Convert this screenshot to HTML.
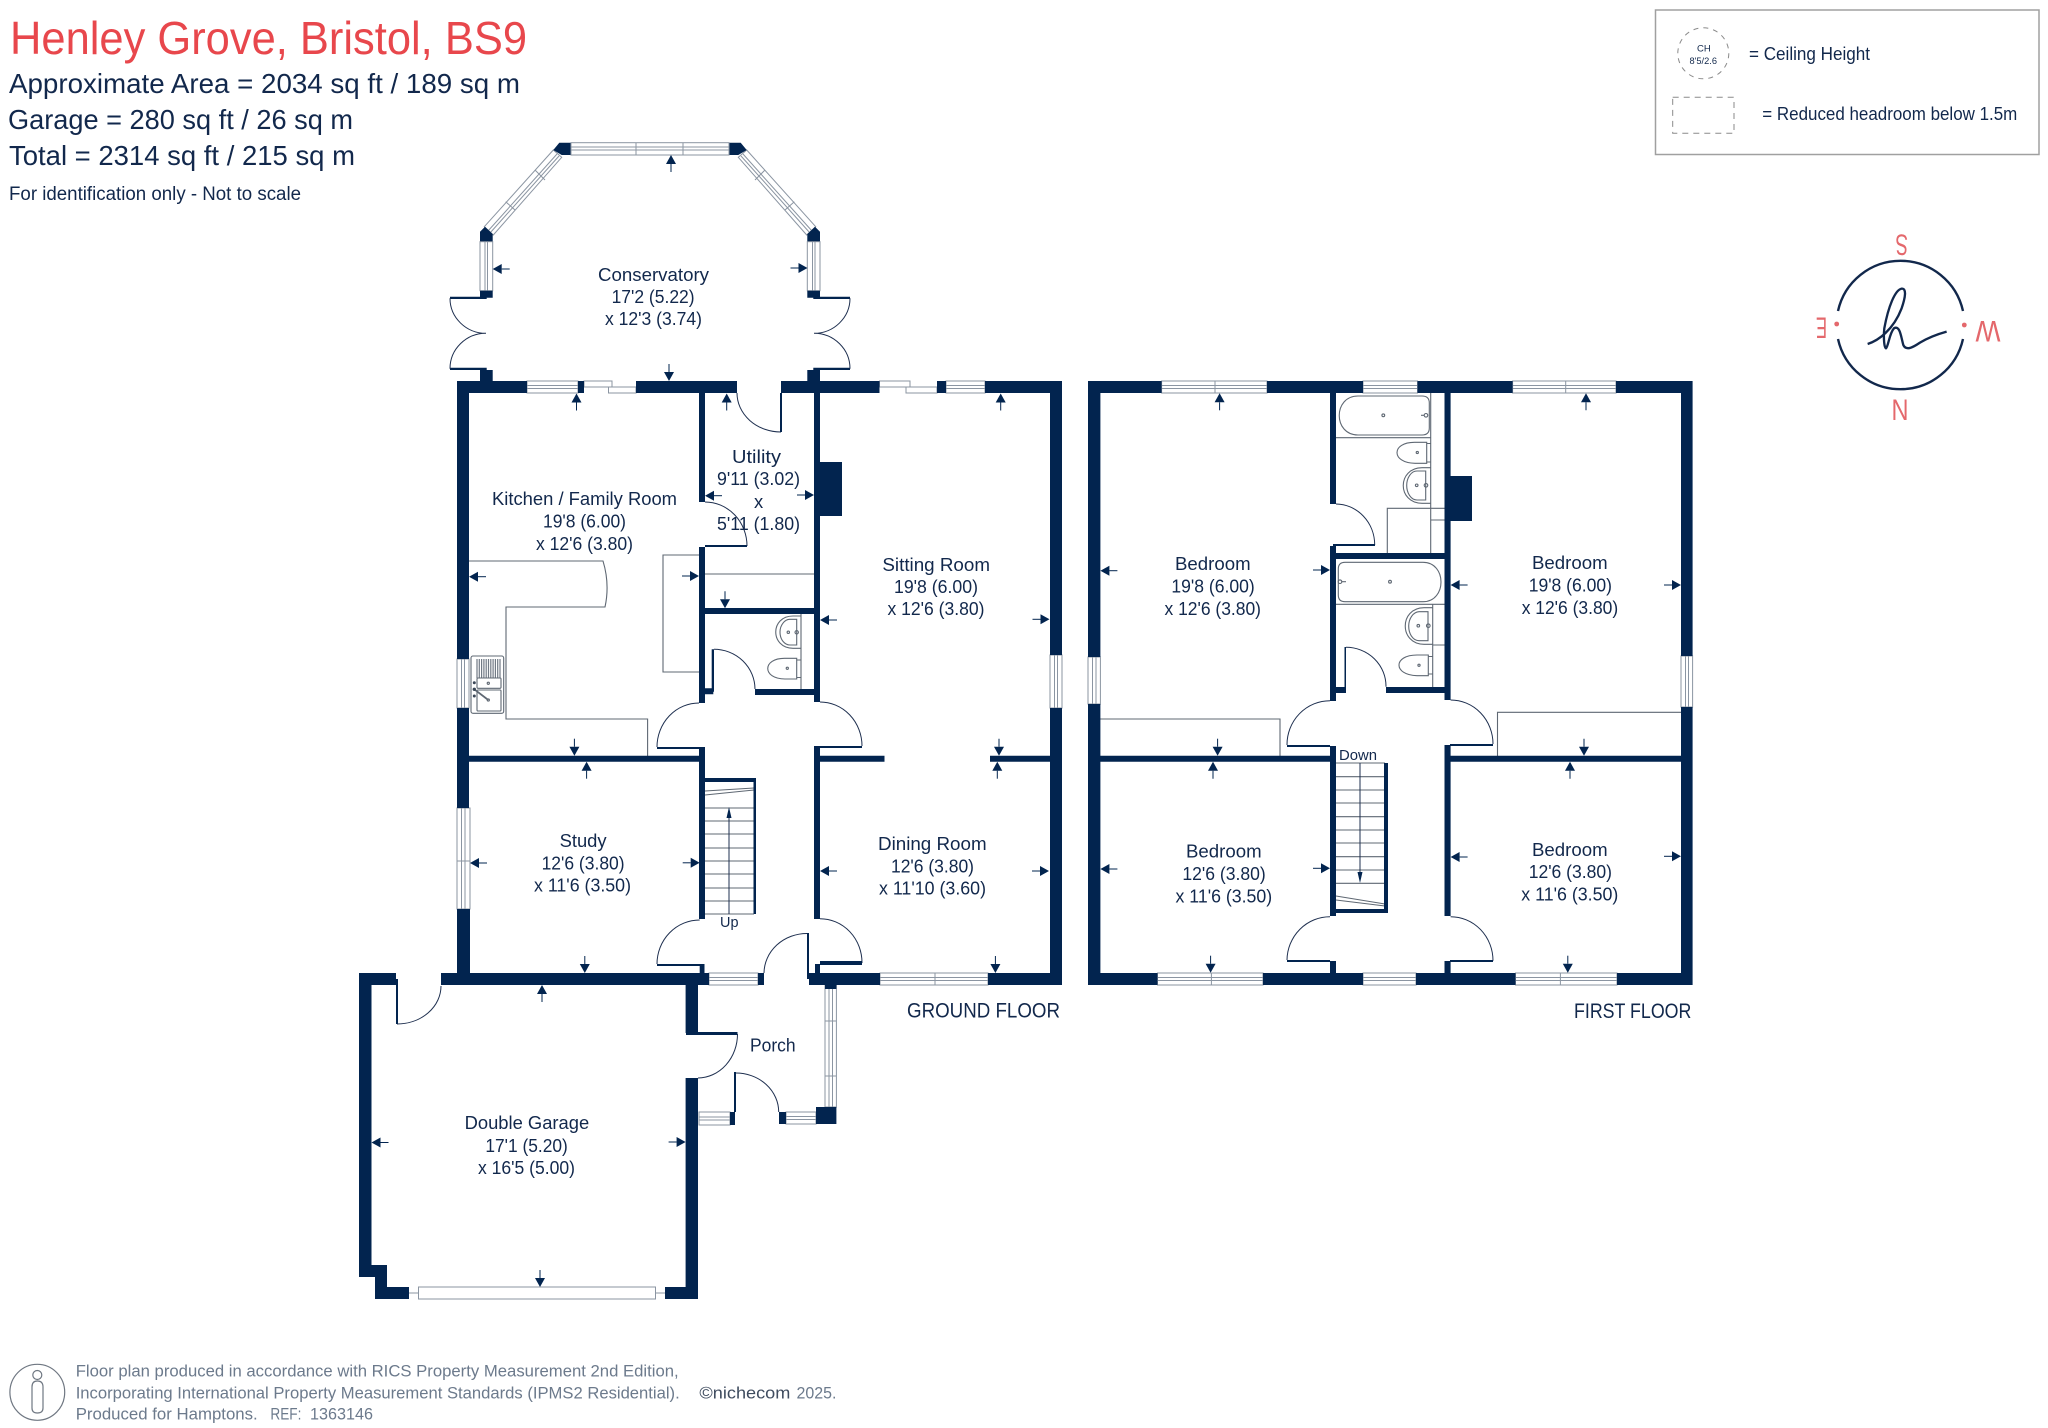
<!DOCTYPE html>
<html>
<head>
<meta charset="utf-8">
<style>
html,body{margin:0;padding:0;background:#fff}
svg{display:block}
text{fill:#12284c;font-family:"Liberation Sans",sans-serif}
.r{font-size:18.4px}
.w{fill:#fff;stroke:#8b95a2;stroke-width:1}
.t{fill:none;stroke:#5f6873;stroke-width:1.1}
.d{fill:none;stroke:#1f3050;stroke-width:1}
.f{font-size:17px;fill:#6c7a8c}
.c{font-size:30px;fill:#e4686c}
</style>
</head>
<body>
<svg width="2048" height="1428" viewBox="0 0 2048 1428" xmlns="http://www.w3.org/2000/svg">
<defs>
<g id="a"><path d="M0 0L-9 -5V5Z" fill="#02244f"/><path d="M-9 0H-17" stroke="#02244f" stroke-width="1"/></g>
<g id="cL">
<path class="w" d="M484.3 226.7L553.3 150L561.7 157.3L493.3 235Z"/>
<path d="M488 231L557 154M490 233L559 156M535 170L545 180M505.7 201.7L515 210" fill="none" stroke="#8b95a2" stroke-width="1"/>
<path fill="#02244f" d="M553.3 150L559.3 142.7H571V155H561.7ZM480 231.7L485 226.7L492.7 234V241.7H480Z"/>
<rect class="w" x="480" y="241.7" width="12.7" height="49"/>
<path d="M485 241.7V290.7M487.5 241.7V290.7" stroke="#8b95a2" stroke-width="1"/>
<path fill="#02244f" d="M480 290.7H492.7V297.7H480ZM450 296.7H486.7V299H450ZM450 367.7H486.7V370H450ZM480 370H492.7V381H480Z"/>
<path class="d" d="M450 298.3A36 35 0 0 0 486 333.3A36 35.4 0 0 0 450 368.7"/>
</g>
</defs>

<!-- Header -->
<text x="10" y="54" font-size="46" style="fill:#e8474c" textLength="517" lengthAdjust="spacingAndGlyphs">Henley Grove, Bristol, BS9</text>
<text x="9" y="93" font-size="28" textLength="511" lengthAdjust="spacingAndGlyphs">Approximate Area = 2034 sq ft / 189 sq m</text>
<text x="8" y="129" font-size="28" textLength="345" lengthAdjust="spacingAndGlyphs">Garage = 280 sq ft / 26 sq m</text>
<text x="9" y="165" font-size="28" textLength="346" lengthAdjust="spacingAndGlyphs">Total = 2314 sq ft / 215 sq m</text>
<text x="9" y="200" font-size="19" textLength="292" lengthAdjust="spacingAndGlyphs">For identification only - Not to scale</text>

<!-- Legend -->
<rect x="1655.5" y="10" width="383.5" height="144.5" fill="none" stroke="#a0a0a0" stroke-width="1.5"/>
<circle cx="1703.3" cy="53.3" r="25.5" fill="none" stroke="#8a8a8a" stroke-width="1" stroke-dasharray="5 5"/>
<text x="1697" y="51.5" font-size="9.5">CH</text>
<text x="1689.5" y="64" font-size="9.5" textLength="27.5" lengthAdjust="spacingAndGlyphs">8'5/2.6</text>
<text x="1749" y="60" font-size="18" textLength="121" lengthAdjust="spacingAndGlyphs">= Ceiling Height</text>
<rect x="1672.7" y="97.3" width="61.3" height="36" fill="none" stroke="#8a8a8a" stroke-width="1" stroke-dasharray="6 5"/>
<text x="1762.3" y="120" font-size="18" textLength="255" lengthAdjust="spacingAndGlyphs">= Reduced headroom below 1.5m</text>

<!-- Compass -->
<path d="M1838 311A64 64 0 0 1 1963 311M1963 339A64 64 0 0 1 1838 339" fill="none" stroke="#12284c" stroke-width="2.4"/>
<circle cx="1836.7" cy="324" r="2.4" fill="#e4686c"/><circle cx="1964.3" cy="325" r="2.4" fill="#e4686c"/>
<g transform="translate(1640 0) scale(.3333)"><path d="M683 1032C715 1022 760 990 785 925C797 890 800 865 785 866C765 870 745 920 733 985C730 1015 733 1045 738 1045C745 1040 748 1000 762 985C780 975 783 1010 790 1035C798 1052 815 1045 840 1028C870 1010 895 1002 920 995" fill="none" stroke="#12284c" stroke-width="7"/></g>
<text class="c" transform="translate(1908 234.5) rotate(180)" textLength="12.5" lengthAdjust="spacingAndGlyphs" x="0" y="0">S</text>
<text class="c" transform="translate(1908.5 399.5) rotate(180)" textLength="17" lengthAdjust="spacingAndGlyphs" x="0" y="0">N</text>
<text class="c" transform="translate(1827 317.5) rotate(180)" textLength="11" lengthAdjust="spacingAndGlyphs" x="0" y="0">E</text>
<text class="c" transform="translate(2000.5 321) rotate(180)" textLength="25" lengthAdjust="spacingAndGlyphs" x="0" y="0">W</text>

<!-- Conservatory -->
<use href="#cL"/>
<use href="#cL" transform="translate(1300 0) scale(-1 1)"/>
<rect class="w" x="571" y="142.7" width="158" height="12.3"/>
<path d="M571 147H729M571 150H729M636 142.7V155M683 142.7V155" stroke="#8b95a2" stroke-width="1"/>

<!-- Windows ground -->
<g>
<rect class="w" x="527" y="381" width="51" height="12"/><path d="M527 385.5H578M527 388.5H578" stroke="#8b95a2"/>
<rect class="w" x="584" y="381" width="28" height="6"/><rect class="w" x="608.5" y="387" width="27.5" height="6"/>
<rect class="w" x="879.5" y="381" width="30.5" height="6"/><rect class="w" x="906" y="387" width="31" height="6"/>
<rect class="w" x="946" y="381" width="39" height="12"/><path d="M946 385.5H985M946 388.5H985" stroke="#8b95a2"/>
<rect class="w" x="457" y="659" width="12" height="49"/><path d="M461.5 659V708M464.5 659V708" stroke="#8b95a2"/>
<rect class="w" x="1050" y="655" width="12" height="53"/><path d="M1054.5 655V708M1057.5 655V708" stroke="#8b95a2"/>
<rect class="w" x="457" y="808" width="13" height="101"/><path d="M461.5 808V909M465 808V909M457 861H470" stroke="#8b95a2"/>
<rect class="w" x="709" y="973" width="49" height="12"/><path d="M709 977.5H758M709 980.5H758" stroke="#8b95a2"/>
<rect class="w" x="880" y="973" width="108" height="12"/><path d="M880 977.5H988M880 980.5H988M935 973V985" stroke="#8b95a2"/>
<rect class="w" x="418.5" y="1287" width="237" height="12"/><path d="M409 1293H418.5M655.5 1293H665" stroke="#8b95a2"/>
<rect class="w" x="699" y="1112" width="31" height="13"/><path d="M699 1117H730M699 1120H730" stroke="#8b95a2"/>
<rect class="w" x="786" y="1112" width="30" height="12"/><path d="M786 1116.5H816M786 1119.5H816" stroke="#8b95a2"/>
<rect class="w" x="825" y="985" width="11.4" height="122"/><path d="M829 985V1107M832.5 985V1107M825 1021H836.4M825 1076H836.4" stroke="#8b95a2"/>
</g>

<!-- Windows first -->
<g>
<rect class="w" x="1161.6" y="381" width="105.4" height="12"/><path d="M1161.6 385.5H1267M1161.6 388.5H1267M1215 381V393" stroke="#8b95a2"/>
<rect class="w" x="1363" y="381" width="54.5" height="12"/><path d="M1363 385.5H1417.5M1363 388.5H1417.5" stroke="#8b95a2"/>
<rect class="w" x="1512.6" y="381" width="103.4" height="12"/><path d="M1512.6 385.5H1616M1512.6 388.5H1616M1565.7 381V393" stroke="#8b95a2"/>
<rect class="w" x="1157.5" y="973" width="105.5" height="12"/><path d="M1157.5 977.5H1263M1157.5 980.5H1263M1211.4 973V985" stroke="#8b95a2"/>
<rect class="w" x="1363" y="973" width="53" height="12"/><path d="M1363 977.5H1416M1363 980.5H1416" stroke="#8b95a2"/>
<rect class="w" x="1515.5" y="973" width="101.5" height="12"/><path d="M1515.5 977.5H1617M1515.5 980.5H1617M1560.4 973V985" stroke="#8b95a2"/>
<rect class="w" x="1088" y="657" width="12.4" height="47"/><path d="M1092.5 657V704M1096 657V704" stroke="#8b95a2"/>
<rect class="w" x="1681" y="656" width="11.6" height="51"/><path d="M1685.5 656V707M1688.5 656V707" stroke="#8b95a2"/>
</g>

<!-- Fixtures ground -->
<path class="t" d="M469 561H603Q610 584 605 607H506V719H647.6V756" stroke="#8a929c"/>
<path class="t" d="M699 555H663V672H699M705 574H814"/>
<rect x="471" y="656" width="32.7" height="57.3" rx="2" class="t"/>
<path d="M477 659V678M479.3 659V678M481.6 659V678M483.9 659V678M486.2 659V678M488.5 659V678M490.8 659V678M493.1 659V678M495.4 659V678M497.7 659V678M500 659V678" stroke="#717a85" stroke-width="1.2" fill="none"/>
<rect x="477" y="678" width="24" height="10.3" rx="1" class="t"/>
<rect x="477" y="690" width="24" height="21" rx="1" class="t"/>
<path d="M474.3 689.3L488.3 700" stroke="#5f6873" stroke-width="1.8" fill="none"/>
<circle cx="474.3" cy="682.7" r="1.5" fill="#3a4656"/><circle cx="474.3" cy="689.3" r="1.7" fill="#3a4656"/><circle cx="474.3" cy="696" r="1.5" fill="#3a4656"/>
<circle cx="488.3" cy="683.3" r="1.1" class="t"/><circle cx="488.3" cy="700" r="1.1" class="t"/>
<path class="t" d="M801 614V689"/>
<path class="t" d="M801 616H793C770 616 770 648 793 648.3H801"/>
<path class="t" d="M796.7 619.3H790C785 619 780 625 780 632C780 640 785 645 790 645H796.7Z"/>
<path class="t" d="M796.7 658.3V679H785C762 679 762 658 785 658.3ZM796.7 660H801M796.7 677.5H801"/>
<circle cx="788.3" cy="632.3" r="1.2" class="t"/><circle cx="796.7" cy="632.3" r="1.7" class="t"/><circle cx="787.3" cy="668.3" r="1.1" class="t"/>
<path class="t" d="M705 914H754M705 808H754M705 821H754M705 834H754M705 848H754M705 861H754M705 874H754M705 888H754M705 901H754M705 795L754 790M705 791L754 788"/>
<path d="M729 914V810" stroke="#1f3050" stroke-width="1"/><path d="M729 807L726.5 818H731.5Z" fill="#02244f"/>

<!-- Fixtures first -->
<path class="t" d="M1100 719H1280V756M1497.5 756V712.3H1681" stroke="#8a929c"/>
<path class="t" d="M1336 437.7H1431M1430.7 393V553M1387.3 553V508.3H1444.5M1430.7 520H1444.5"/>
<path class="t" d="M1422 396Q1429.3 396 1429.3 403V428Q1429.3 435 1422 435H1358C1333 435 1333 396 1358 396Z"/>
<circle cx="1383.3" cy="415.3" r="1.4" class="t"/><circle cx="1426" cy="415.3" r="1.8" class="t"/><path class="t" d="M1421 415.3H1424"/>
<path class="t" d="M1426.7 442.3V463.3H1415C1391 463 1391 442 1415 442.3ZM1426.7 443.5H1430.7M1426.7 462H1430.7"/><circle cx="1417.3" cy="452.5" r="1.1" class="t"/>
<path class="t" d="M1430.7 467.7H1422C1397 468 1397 503 1422 503.3H1430.7"/>
<path class="t" d="M1425.7 471H1417C1411 471 1406.7 478 1406.7 485.5C1406.7 493 1411 500 1417 500H1425.7Z"/><circle cx="1416.7" cy="485.3" r="1.3" class="t"/><circle cx="1426" cy="485.3" r="1.8" class="t"/>
<path class="t" d="M1338.3 569Q1338.3 562.3 1345 562.3H1423C1447 562.3 1447 601.7 1423 601.7H1345Q1338.3 601.7 1338.3 595Z"/>
<circle cx="1390" cy="581.7" r="1.4" class="t"/><circle cx="1340" cy="581.7" r="1.8" class="t"/><path class="t" d="M1342 581.7H1346"/>
<path class="t" d="M1336 604.3H1444.5M1432.7 604V687M1432.7 645H1444.5"/>
<path class="t" d="M1432.7 607.7H1424C1399 608 1399 644 1424 644.3H1432.7"/>
<path class="t" d="M1428 611.7H1419C1413 612 1408.7 619 1408.7 626C1408.7 634 1413 640.7 1419 640.7H1428Z"/><circle cx="1418.3" cy="625.7" r="1.3" class="t"/><circle cx="1428.3" cy="625.7" r="1.8" class="t"/>
<path class="t" d="M1428.3 655V675.7H1417C1393 675 1393 655 1417 655ZM1428.3 656.5H1432.7M1428.3 674H1432.7"/><circle cx="1419" cy="665.3" r="1.1" class="t"/>
<path class="t" d="M1336 763H1385M1336 776.7H1385M1336 790H1385M1336 803H1385M1336 816.7H1385M1336 830H1385M1336 843H1385M1336 856.7H1385M1336 870H1385M1336 883.3H1385M1336 896L1385 904M1336 900L1385 906"/>
<path d="M1360 763V880" stroke="#1f3050" stroke-width="1"/><path d="M1360 883L1357.5 872H1362.5Z" fill="#02244f"/>

<!-- Door arcs -->
<path class="d" d="M737 393A44 39 0 0 0 781 432M705 502A42 44 0 0 1 747 546M714 649.3A41 40 0 0 1 755 689M699 703A42 44 0 0 0 657 747M820 702A42 44 0 0 1 862 746M699.7 920A42.7 44 0 0 0 657 964M820 918.7A42 44 0 0 1 862 963M807 933.5A43 40 0 0 0 764 973M397 1024A44 38 0 0 0 441 986M737.5 1034A40 44 0 0 1 698 1078M735.6 1073A43 39 0 0 1 778.7 1112"/>
<path class="d" d="M1336 504A39 41 0 0 1 1374.7 545M1346 647.3A40 39 0 0 1 1386 686.7M1330 700.7A43 44 0 0 0 1287 745M1450.6 700A42.4 44 0 0 1 1493 744M1330 916.7A43 44 0 0 0 1287 960M1450.6 916.7A42.4 44 0 0 1 1493 960.7"/>

<!-- Walls -->
<path fill="#02244f" d="
M457 381H469V659H457ZM457 708H469V808H457ZM457 909H470V985H457Z
M457 381H527V393H457ZM578 381H584V393H578ZM636 381H737V393H636ZM781 381H879.5V393H781ZM937 381H946V393H937ZM985 381H1062V393H985Z
M1050 381H1062V655H1050ZM1050 708H1062V985H1050Z
M699 393H705V502H699ZM699 547H705V703H699ZM705 545H747V547H705ZM699 747H705V919H699Z
M814 393H820V702H814ZM814 746H820V919H814ZM820 462H842V516H820Z
M705 608H814V614H705ZM755 689H814V695H755ZM705 688.3H713.3V694.3H705ZM711.7 649.3H714V691.7H711.7Z
M780 393H782V432H780ZM657 747H699V749H657ZM820 746H862V748H820Z
M469 755.7H699V761.7H469ZM820 755.7H884.5V761.7H820ZM990 755.7H1050V761.7H990Z
M704 778H756V782H704ZM753.5 778H756V914H753.5Z
M657 964H701V966H657ZM699.7 964H704.5V973H699.7ZM820 961H862V965H820ZM815 964H820V973H815Z
M441 973H709V985H441ZM758 973H764V985H758ZM809 973H880V985H809ZM988 973H1062V985H988ZM359 973H396V985H359Z
M359 973H371.5V1277H359ZM359 1265H387V1277H359ZM375 1277H387V1299H375ZM375 1287H409V1299H375ZM665 1287H698V1299H665Z
M685.6 985H698V1033H685.6ZM685.6 1078H698V1299H685.6ZM686 1032H737.5V1035H686ZM396 979H398V1024H396ZM807 933H809V979H807Z
M730 1112H735V1125H730ZM734 1072H736V1112H734ZM779 1112H786V1124H779ZM816 1107H836.4V1124H816ZM825 985H836.4V989H825Z
M1088 381H1100.4V657H1088ZM1088 704H1100.4V985H1088ZM1681 381H1692.6V656H1681ZM1681 707H1692.6V985H1681Z
M1088 381H1161.6V393H1088ZM1267 381H1363V393H1267ZM1417.5 381H1512.6V393H1417.5ZM1616 381H1692.6V393H1616Z
M1088 973H1157.5V985H1088ZM1263 973H1363V985H1263ZM1416 973H1515.5V985H1416ZM1617 973H1692.6V985H1617Z
M1330 393H1336V504H1330ZM1330 546H1336V701H1330ZM1330 746H1336V916H1330ZM1330 961H1336V973H1330Z
M1444.5 393H1450.6V700H1444.5ZM1444.5 745H1450.6V916H1444.5ZM1444.5 961H1450.6V973H1444.5Z
M1333 544H1375V546H1333ZM1336 553H1444.5V559H1336ZM1386 687H1444.5V693H1386ZM1336 687H1346V693H1336ZM1344.5 647H1346V688H1344.5Z
M1450.6 476H1472V521H1450.6ZM1287 745H1330V747H1287ZM1450 744H1493V746H1450ZM1287 960H1330V962H1287ZM1450 960H1493V962H1450Z
M1100 755.7H1330V761.7H1100ZM1450.6 755.7H1681V761.7H1450.6ZM1384 763H1388V913H1384ZM1336 909H1388V913H1336Z"/>

<!-- Arrows -->
<g>
<use href="#a" transform="translate(671 155) rotate(-90)"/>
<use href="#a" transform="translate(492.7 269) rotate(180)"/>
<use href="#a" transform="translate(807.5 268)"/>
<use href="#a" transform="translate(576.5 393.5) rotate(-90)"/>
<use href="#a" transform="translate(669 381) rotate(90)"/>
<use href="#a" transform="translate(726.7 393.5) rotate(-90)"/>
<use href="#a" transform="translate(1000.7 393.5) rotate(-90)"/>
<use href="#a" transform="translate(469 576.7) rotate(180)"/>
<use href="#a" transform="translate(699 576)"/>
<use href="#a" transform="translate(705 495.7) rotate(180)"/>
<use href="#a" transform="translate(814 495)"/>
<use href="#a" transform="translate(725 608.3) rotate(90)"/>
<use href="#a" transform="translate(820 620) rotate(180)"/>
<use href="#a" transform="translate(1049.5 619.3)"/>
<use href="#a" transform="translate(574.4 755.7) rotate(90)"/>
<use href="#a" transform="translate(999 755.7) rotate(90)"/>
<use href="#a" transform="translate(586.6 761.7) rotate(-90)"/>
<use href="#a" transform="translate(997.3 761.7) rotate(-90)"/>
<use href="#a" transform="translate(470 863) rotate(180)"/>
<use href="#a" transform="translate(699.7 862.8)"/>
<use href="#a" transform="translate(584.8 973) rotate(90)"/>
<use href="#a" transform="translate(820 871) rotate(180)"/>
<use href="#a" transform="translate(1049 871)"/>
<use href="#a" transform="translate(995.4 973) rotate(90)"/>
<use href="#a" transform="translate(542 985) rotate(-90)"/>
<use href="#a" transform="translate(371.5 1142.5) rotate(180)"/>
<use href="#a" transform="translate(685.6 1142)"/>
<use href="#a" transform="translate(540 1287) rotate(90)"/>
<use href="#a" transform="translate(1219.6 393.3) rotate(-90)"/>
<use href="#a" transform="translate(1586 393.3) rotate(-90)"/>
<use href="#a" transform="translate(1100.4 570.7) rotate(180)"/>
<use href="#a" transform="translate(1330 570)"/>
<use href="#a" transform="translate(1450.6 585) rotate(180)"/>
<use href="#a" transform="translate(1681 585)"/>
<use href="#a" transform="translate(1217.6 755.7) rotate(90)"/>
<use href="#a" transform="translate(1584 755.7) rotate(90)"/>
<use href="#a" transform="translate(1213 761.7) rotate(-90)"/>
<use href="#a" transform="translate(1570 761.7) rotate(-90)"/>
<use href="#a" transform="translate(1100.4 869) rotate(180)"/>
<use href="#a" transform="translate(1330 868.3)"/>
<use href="#a" transform="translate(1210.6 972.7) rotate(90)"/>
<use href="#a" transform="translate(1450.6 857) rotate(180)"/>
<use href="#a" transform="translate(1681 856.3)"/>
<use href="#a" transform="translate(1567.8 972.7) rotate(90)"/>
</g>

<!-- Room labels -->
<g class="r">
<text class="r" x="598" y="281" textLength="111" lengthAdjust="spacingAndGlyphs">Conservatory</text>
<text class="r" x="611.6" y="303" textLength="83" lengthAdjust="spacingAndGlyphs">17'2 (5.22)</text>
<text class="r" x="605" y="325" textLength="97" lengthAdjust="spacingAndGlyphs">x 12'3 (3.74)</text>

<text class="r" x="492" y="505" textLength="185" lengthAdjust="spacingAndGlyphs">Kitchen / Family Room</text>
<text class="r" x="543" y="527.7" textLength="83" lengthAdjust="spacingAndGlyphs">19'8 (6.00)</text>
<text class="r" x="536" y="550" textLength="97" lengthAdjust="spacingAndGlyphs">x 12'6 (3.80)</text>

<text class="r" x="732" y="463" textLength="49" lengthAdjust="spacingAndGlyphs">Utility</text>
<text class="r" x="717" y="485" textLength="83" lengthAdjust="spacingAndGlyphs">9'11 (3.02)</text>
<text class="r" x="754" y="508">x</text>
<text class="r" x="717" y="530" textLength="83" lengthAdjust="spacingAndGlyphs">5'11 (1.80)</text>

<text class="r" x="882.4" y="571" textLength="107.6" lengthAdjust="spacingAndGlyphs">Sitting Room</text>
<text class="r" x="894" y="593" textLength="84" lengthAdjust="spacingAndGlyphs">19'8 (6.00)</text>
<text class="r" x="887.5" y="615" textLength="97" lengthAdjust="spacingAndGlyphs">x 12'6 (3.80)</text>

<text class="r" x="559.6" y="847" textLength="47" lengthAdjust="spacingAndGlyphs">Study</text>
<text class="r" x="541.6" y="869.5" textLength="83" lengthAdjust="spacingAndGlyphs">12'6 (3.80)</text>
<text class="r" x="534" y="891.7" textLength="97" lengthAdjust="spacingAndGlyphs">x 11'6 (3.50)</text>

<text class="r" x="878" y="850" textLength="108.6" lengthAdjust="spacingAndGlyphs">Dining Room</text>
<text class="r" x="891" y="872.4" textLength="83" lengthAdjust="spacingAndGlyphs">12'6 (3.80)</text>
<text class="r" x="879" y="894.6" textLength="107" lengthAdjust="spacingAndGlyphs">x 11'10 (3.60)</text>

<text class="r" x="750" y="1051.5" textLength="45.6" lengthAdjust="spacingAndGlyphs">Porch</text>
<text class="r" x="464.6" y="1129" textLength="124.6" lengthAdjust="spacingAndGlyphs">Double Garage</text>
<text class="r" x="485.4" y="1152" textLength="82.4" lengthAdjust="spacingAndGlyphs">17'1 (5.20)</text>
<text class="r" x="478" y="1174" textLength="97" lengthAdjust="spacingAndGlyphs">x 16'5 (5.00)</text>

<text x="720" y="927" font-size="15" textLength="18.5" lengthAdjust="spacingAndGlyphs">Up</text>
<text x="1339" y="760" font-size="15" textLength="38" lengthAdjust="spacingAndGlyphs">Down</text>

<text x="907" y="1017.5" font-size="21.5" textLength="153" lengthAdjust="spacingAndGlyphs">GROUND FLOOR</text>
<text x="1574" y="1018" font-size="21.5" textLength="117.4" lengthAdjust="spacingAndGlyphs">FIRST FLOOR</text>

<text class="r" x="1175" y="570" textLength="75.6" lengthAdjust="spacingAndGlyphs">Bedroom</text>
<text class="r" x="1171.4" y="592.7" textLength="83.3" lengthAdjust="spacingAndGlyphs">19'8 (6.00)</text>
<text class="r" x="1164.5" y="615" textLength="96.5" lengthAdjust="spacingAndGlyphs">x 12'6 (3.80)</text>

<text class="r" x="1532" y="569" textLength="75.6" lengthAdjust="spacingAndGlyphs">Bedroom</text>
<text class="r" x="1528.7" y="591.7" textLength="83.3" lengthAdjust="spacingAndGlyphs">19'8 (6.00)</text>
<text class="r" x="1521.7" y="614" textLength="96.5" lengthAdjust="spacingAndGlyphs">x 12'6 (3.80)</text>

<text class="r" x="1186" y="857.7" textLength="75.6" lengthAdjust="spacingAndGlyphs">Bedroom</text>
<text class="r" x="1182.4" y="880" textLength="83.3" lengthAdjust="spacingAndGlyphs">12'6 (3.80)</text>
<text class="r" x="1175.5" y="902.7" textLength="96.7" lengthAdjust="spacingAndGlyphs">x 11'6 (3.50)</text>

<text class="r" x="1532" y="856" textLength="75.6" lengthAdjust="spacingAndGlyphs">Bedroom</text>
<text class="r" x="1528.7" y="878" textLength="83.3" lengthAdjust="spacingAndGlyphs">12'6 (3.80)</text>
<text class="r" x="1521.3" y="900.7" textLength="97" lengthAdjust="spacingAndGlyphs">x 11'6 (3.50)</text>
</g>

<!-- Footer -->
<ellipse cx="37.3" cy="1392.3" rx="27.4" ry="28" fill="none" stroke="#6f7782" stroke-width="1.2"/>
<circle cx="37.3" cy="1375" r="4.5" fill="none" stroke="#6f7782" stroke-width="1.2"/>
<path d="M32 1387Q32 1381 37.3 1381Q43 1381 43 1387V1408Q43 1413 37.3 1413Q32 1413 32 1408Z" fill="none" stroke="#6f7782" stroke-width="1.2"/>
<text class="f" x="75.7" y="1376.7" textLength="603" lengthAdjust="spacingAndGlyphs">Floor plan produced in accordance with RICS Property Measurement 2nd Edition,</text>
<text class="f" x="75.7" y="1398.3" textLength="604" lengthAdjust="spacingAndGlyphs">Incorporating International Property Measurement Standards (IPMS2 Residential).</text>
<text class="f" x="699.4" y="1398.3" textLength="91" lengthAdjust="spacingAndGlyphs" style="fill:#3f4c5f">©nichecom</text>
<text class="f" x="796.5" y="1398.3" textLength="40" lengthAdjust="spacingAndGlyphs">2025.</text>
<text class="f" x="75.7" y="1419.3" textLength="182" lengthAdjust="spacingAndGlyphs">Produced for Hamptons.</text>
<text class="f" x="270.4" y="1419.3" textLength="31" lengthAdjust="spacingAndGlyphs">REF:</text>
<text class="f" x="310" y="1419.3" textLength="63" lengthAdjust="spacingAndGlyphs">1363146</text>
</svg>
</body>
</html>
